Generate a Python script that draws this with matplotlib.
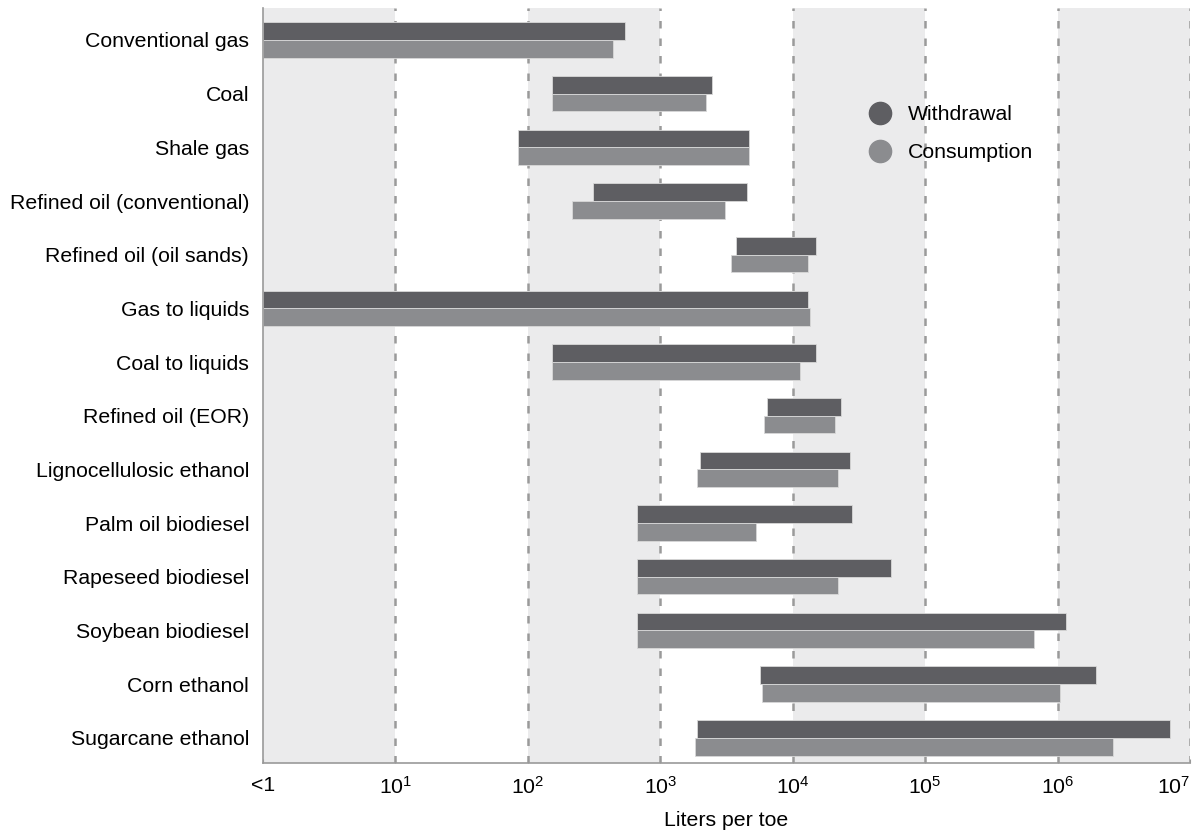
import matplotlib
matplotlib.use('Agg')
import matplotlib.pyplot as plt
import numpy as np
from matplotlib.lines import Line2D

plt.rcParams['font.family'] = ['Liberation Sans', 'DejaVu Sans']

# Categories, top to bottom
fuels = ['Conventional gas', 'Coal', 'Shale gas', 'Refined oil (conventional)',
         'Refined oil (oil sands)', 'Gas to liquids', 'Coal to liquids',
         'Refined oil (EOR)', 'Lignocellulosic ethanol', 'Palm oil biodiesel',
         'Rapeseed biodiesel', 'Soybean biodiesel', 'Corn ethanol', 'Sugarcane ethanol']

# Liters per toe (low, high); 1 means "<1"
withdraw_lo = [1, 152, 84, 310, 3720, 1, 152, 6350, 1990, 665, 665, 665, 5640, 1900]
withdraw_hi = [540, 2450, 4650, 4500, 14900, 13000, 14900, 23000, 27000, 28000, 55000, 1.15e6, 1.96e6, 7.0e6]
consume_lo = [1, 152, 84, 215, 3400, 1, 152, 6040, 1900, 665, 665, 665, 5870, 1820]
consume_hi = [437, 2200, 4650, 3080, 13000, 13500, 11300, 21000, 21900, 5260, 21900, 6.6e5, 1.05e6, 2.64e6]

xticks = [1, 1e1, 1e2, 1e3, 1e4, 1e5, 1e6, 1e7]
xticklabels = ['<1', '$\\mathregular{10^{1}}$', '$\\mathregular{10^{2}}$', '$\\mathregular{10^{3}}$',
               '$\\mathregular{10^{4}}$', '$\\mathregular{10^{5}}$', '$\\mathregular{10^{6}}$',
               '$\\mathregular{10^{7}}$']

c_with = '#5e5e62'
c_cons = '#8b8c8f'
band = '#ebebec'
fs = 15.3

fig = plt.figure(figsize=(11.97, 8.33), dpi=100)
ax = fig.add_axes([0.2197, 0.084, 0.7745, 0.906])

# alternating background bands and dashed decade lines
for lo in [1, 1e2, 1e4, 1e6]:
    ax.axvspan(lo, lo * 10, color=band, zorder=0, lw=0)
for x in xticks[1:]:
    ax.axvline(x, color='#9a9a9a', ls=(0, (3, 4)), lw=1.8, zorder=1)

y = np.arange(len(fuels))
h = 0.33
wl = np.array(withdraw_lo); wh = np.array(withdraw_hi)
cl = np.array(consume_lo); ch = np.array(consume_hi)
ax.barh(y - h / 2, wh - wl, left=wl, height=h, color=c_with, edgecolor='#d8d8d8',
        lw=0.6, zorder=2)
ax.barh(y + h / 2, ch - cl, left=cl, height=h, color=c_cons, edgecolor='#d8d8d8',
        lw=0.6, zorder=2)

ax.set_xscale('log')
ax.set_xlim(1, 1e7)
ax.set_ylim(13.47, -0.59)
ax.set_xticks(xticks)
ax.set_xticklabels(xticklabels, fontsize=fs)
ax.minorticks_off()
ax.set_yticks(y)
ax.set_yticklabels(fuels, fontsize=fs)
ax.tick_params(axis='y', length=0, pad=10)
ax.tick_params(axis='x', length=3, direction='in', color='#999999', pad=9)
ax.set_xlabel('Liters per toe', fontsize=fs, labelpad=10)
ax.get_xticklabels()[-1].set_horizontalalignment('right')

for s in ['top', 'right']:
    ax.spines[s].set_visible(False)
for s in ['left', 'bottom']:
    ax.spines[s].set_color('#9a9a9a')
    ax.spines[s].set_linewidth(1.2)

handles = [Line2D([], [], marker='o', ls='', ms=16, color=c_with),
           Line2D([], [], marker='o', ls='', ms=16, color=c_cons)]
ax.legend(handles, ['Withdrawal', 'Consumption'], loc='upper left',
          bbox_to_anchor=(0.631, 0.897), frameon=False, fontsize=fs,
          handletextpad=0.7, labelspacing=0.9, handlelength=1.2)

fig.savefig('out.png', dpi=100)
